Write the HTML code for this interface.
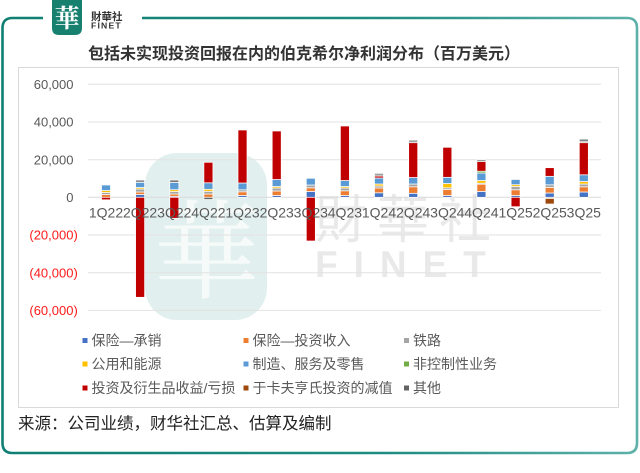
<!DOCTYPE html>
<html><head><meta charset="utf-8"><style>
html,body{margin:0;padding:0;background:#fff;}
body{width:640px;height:473px;overflow:hidden;}
svg{display:block;}
.lat{font-family:"Liberation Sans","Noto Sans CJK SC",sans-serif;}
.cjk{font-family:"Liberation Sans","Noto Sans CJK SC",sans-serif;}
</style></head><body>
<svg width="640" height="473" viewBox="0 0 640 473" xmlns="http://www.w3.org/2000/svg">
<defs>
<linearGradient id="fg" x1="0" y1="0" x2="1" y2="0">
<stop offset="0" stop-color="#0f7f73"/><stop offset="0.6" stop-color="#1f8c81"/><stop offset="1" stop-color="#5db1a9"/>
</linearGradient>
</defs>
<rect width="640" height="473" fill="#fff"/>
<path d="M43,18 L12.5,18 Q2.5,18 2.5,28 L2.5,443 Q2.5,453 12.5,453 L627,453 Q637,453 637,443 L637,28 Q637,18 627,18 L142,18" fill="none" stroke="url(#fg)" stroke-width="2.6"/>
<path d="M52,0 L82,0 L82,28 Q82,35 75,35 L59,35 Q52,35 52,28 Z" fill="#17806f"/>
<text x="67" y="27" text-anchor="middle" font-family="'Noto Serif CJK SC','Noto Sans CJK SC',serif" font-size="25" font-weight="bold" fill="#fff">華</text>
<text x="91" y="20" font-family="'Liberation Sans','Noto Sans CJK TC',sans-serif" font-size="10.5" font-weight="bold" fill="#333">財華社</text>
<text x="91" y="28.5" class="lat" font-size="8.6" font-weight="bold" fill="#333" letter-spacing="1.2">FINET</text>
<text x="304" y="59" text-anchor="middle" class="cjk" font-size="16" font-weight="bold" fill="#333">包括未实现投资回报在内的伯克希尔净利润分布（百万美元）</text>
<rect x="18.5" y="67.5" width="600" height="340" fill="#fff" stroke="#d9d9d9" stroke-width="1"/>
<!-- watermark -->
<rect x="145" y="153" width="122" height="167" rx="32" ry="32" fill="#e1f0ee"/>
<text x="206" y="290" text-anchor="middle" font-family="'Noto Serif CJK SC','Noto Sans CJK SC',serif" font-size="108" fill="#ffffff" fill-opacity="0.7">華</text>
<text x="315" y="238" font-family="'Noto Sans CJK TC','Noto Sans CJK SC',sans-serif" font-size="52" fill="#e9e9e9" letter-spacing="10">財華社</text>
<text x="315" y="277" class="lat" font-size="37" font-weight="bold" fill="#e9e9e9" letter-spacing="16">FINET</text>
<g stroke="#e2e2e2" stroke-width="1">
<line x1="88" y1="84.3" x2="601" y2="84.3"/>
<line x1="88" y1="122" x2="601" y2="122"/>
<line x1="88" y1="159.7" x2="601" y2="159.7"/>
<line x1="88" y1="235" x2="601" y2="235"/>
<line x1="88" y1="272.7" x2="601" y2="272.7"/>
<line x1="88" y1="310.4" x2="601" y2="310.4"/>
</g>
<line x1="88" y1="197.3" x2="601" y2="197.3" stroke="#d9d9d9" stroke-width="1"/>
<g stroke="#fff" stroke-width="0.7">
<rect x="101.5" y="194.5" width="9" height="2.8" fill="#ed7d31"/>
<rect x="101.5" y="192.5" width="9" height="2" fill="#a5a5a5"/>
<rect x="101.5" y="190.5" width="9" height="2" fill="#ffc000"/>
<rect x="101.5" y="185" width="9" height="5.5" fill="#5b9bd5"/>
<rect x="101.5" y="197.3" width="9" height="2.5" fill="#c00000"/>
<rect x="135.6" y="194.5" width="9" height="2.8" fill="#4472c4"/>
<rect x="135.6" y="192" width="9" height="2.5" fill="#ed7d31"/>
<rect x="135.6" y="189" width="9" height="3" fill="#a5a5a5"/>
<rect x="135.6" y="187.5" width="9" height="1.5" fill="#ffc000"/>
<rect x="135.6" y="182.3" width="9" height="5.2" fill="#5b9bd5"/>
<rect x="135.6" y="180" width="9" height="2.3" fill="#8a8a8a"/>
<rect x="135.6" y="197.3" width="9" height="100" fill="#c00000"/>
<rect x="169.8" y="196.3" width="9" height="1" fill="#4472c4"/>
<rect x="169.8" y="194" width="9" height="2.3" fill="#ed7d31"/>
<rect x="169.8" y="191.5" width="9" height="2.5" fill="#a5a5a5"/>
<rect x="169.8" y="189.7" width="9" height="1.8" fill="#ffc000"/>
<rect x="169.8" y="182.5" width="9" height="7.2" fill="#5b9bd5"/>
<rect x="169.8" y="180" width="9" height="2.5" fill="#7a7a7a"/>
<rect x="169.8" y="197.3" width="9" height="21" fill="#c00000"/>
<rect x="203.9" y="194" width="9" height="3.3" fill="#ed7d31"/>
<rect x="203.9" y="191.3" width="9" height="2.7" fill="#a5a5a5"/>
<rect x="203.9" y="189.3" width="9" height="2" fill="#ffc000"/>
<rect x="203.9" y="182.8" width="9" height="6.5" fill="#5b9bd5"/>
<rect x="203.9" y="162.3" width="9" height="20.5" fill="#c00000"/>
<rect x="203.9" y="197.3" width="9" height="2.2" fill="#636363"/>
<rect x="238" y="195.5" width="9" height="1.8" fill="#4472c4"/>
<rect x="238" y="191.8" width="9" height="3.7" fill="#ed7d31"/>
<rect x="238" y="189.8" width="9" height="2" fill="#a5a5a5"/>
<rect x="238" y="183" width="9" height="6.8" fill="#5b9bd5"/>
<rect x="238" y="130" width="9" height="53" fill="#c00000"/>
<rect x="272.2" y="195.5" width="9" height="1.8" fill="#4472c4"/>
<rect x="272.2" y="191" width="9" height="4.5" fill="#ed7d31"/>
<rect x="272.2" y="188" width="9" height="3" fill="#a5a5a5"/>
<rect x="272.2" y="186.5" width="9" height="1.5" fill="#ffc000"/>
<rect x="272.2" y="179.5" width="9" height="7" fill="#5b9bd5"/>
<rect x="272.2" y="131" width="9" height="48.5" fill="#c00000"/>
<rect x="306.3" y="191.5" width="9" height="5.8" fill="#4472c4"/>
<rect x="306.3" y="187.8" width="9" height="3.7" fill="#ed7d31"/>
<rect x="306.3" y="185" width="9" height="2.8" fill="#a5a5a5"/>
<rect x="306.3" y="178.3" width="9" height="6.7" fill="#5b9bd5"/>
<rect x="306.3" y="197.3" width="9" height="43.7" fill="#c00000"/>
<rect x="340.4" y="195.5" width="9" height="1.8" fill="#4472c4"/>
<rect x="340.4" y="190.8" width="9" height="4.7" fill="#ed7d31"/>
<rect x="340.4" y="188" width="9" height="2.8" fill="#a5a5a5"/>
<rect x="340.4" y="186.5" width="9" height="1.5" fill="#ffc000"/>
<rect x="340.4" y="180.5" width="9" height="6" fill="#5b9bd5"/>
<rect x="340.4" y="126" width="9" height="54.5" fill="#c00000"/>
<rect x="374.5" y="192.8" width="9" height="4.5" fill="#4472c4"/>
<rect x="374.5" y="188" width="9" height="4.8" fill="#ed7d31"/>
<rect x="374.5" y="186" width="9" height="2" fill="#a5a5a5"/>
<rect x="374.5" y="184" width="9" height="2" fill="#ffc000"/>
<rect x="374.5" y="178" width="9" height="6" fill="#5b9bd5"/>
<rect x="374.5" y="176" width="9" height="2" fill="#c00000"/>
<rect x="374.5" y="173.3" width="9" height="2.7" fill="#a0a0a0"/>
<rect x="408.7" y="193.3" width="9" height="4" fill="#4472c4"/>
<rect x="408.7" y="186.8" width="9" height="6.5" fill="#ed7d31"/>
<rect x="408.7" y="184" width="9" height="2.8" fill="#a5a5a5"/>
<rect x="408.7" y="177.5" width="9" height="6.5" fill="#5b9bd5"/>
<rect x="408.7" y="142.7" width="9" height="34.8" fill="#c00000"/>
<rect x="408.7" y="140" width="9" height="2.7" fill="#a0a0a0"/>
<rect x="442.8" y="195.5" width="9" height="1.8" fill="#4472c4"/>
<rect x="442.8" y="189.5" width="9" height="6" fill="#ed7d31"/>
<rect x="442.8" y="187.8" width="9" height="1.7" fill="#a5a5a5"/>
<rect x="442.8" y="183.5" width="9" height="4.3" fill="#ffc000"/>
<rect x="442.8" y="177.3" width="9" height="6.2" fill="#5b9bd5"/>
<rect x="442.8" y="147.3" width="9" height="30" fill="#c00000"/>
<rect x="476.9" y="191.5" width="9" height="5.8" fill="#4472c4"/>
<rect x="476.9" y="184.2" width="9" height="7.3" fill="#ed7d31"/>
<rect x="476.9" y="183.2" width="9" height="1" fill="#a5a5a5"/>
<rect x="476.9" y="180.5" width="9" height="2.7" fill="#ffc000"/>
<rect x="476.9" y="173" width="9" height="7.5" fill="#5b9bd5"/>
<rect x="476.9" y="171.2" width="9" height="1.8" fill="#70ad47"/>
<rect x="476.9" y="161.5" width="9" height="9.7" fill="#c00000"/>
<rect x="476.9" y="160" width="9" height="1.5" fill="#636363"/>
<rect x="511.1" y="195.5" width="9" height="1.8" fill="#4472c4"/>
<rect x="511.1" y="189.8" width="9" height="5.7" fill="#ed7d31"/>
<rect x="511.1" y="186.5" width="9" height="3.3" fill="#a5a5a5"/>
<rect x="511.1" y="184.7" width="9" height="1.8" fill="#ffc000"/>
<rect x="511.1" y="179.5" width="9" height="5.2" fill="#5b9bd5"/>
<rect x="511.1" y="197.3" width="9" height="9.4" fill="#c00000"/>
<rect x="545.2" y="193" width="9" height="4.3" fill="#4472c4"/>
<rect x="545.2" y="187.5" width="9" height="5.5" fill="#ed7d31"/>
<rect x="545.2" y="184.8" width="9" height="2.7" fill="#a5a5a5"/>
<rect x="545.2" y="176.3" width="9" height="8.5" fill="#5b9bd5"/>
<rect x="545.2" y="167.7" width="9" height="8.6" fill="#c00000"/>
<rect x="545.2" y="197.3" width="9" height="1.2" fill="#a5a5a5"/>
<rect x="545.2" y="198.5" width="9" height="5.5" fill="#9e480e"/>
<rect x="579.3" y="192" width="9" height="5.3" fill="#4472c4"/>
<rect x="579.3" y="186.8" width="9" height="5.2" fill="#ed7d31"/>
<rect x="579.3" y="184" width="9" height="2.8" fill="#a5a5a5"/>
<rect x="579.3" y="181.5" width="9" height="2.5" fill="#ffc000"/>
<rect x="579.3" y="174.8" width="9" height="6.7" fill="#5b9bd5"/>
<rect x="579.3" y="142.7" width="9" height="32.1" fill="#c00000"/>
<rect x="579.3" y="141" width="9" height="1.7" fill="#a5a5a5"/>
<rect x="579.3" y="139.3" width="9" height="1.7" fill="#3f3f3f"/>
</g>
<g class="lat" font-size="14" fill="#595959" text-anchor="middle">
<text x="106" y="217.5">1Q22</text>
<text x="140.1" y="217.5">2Q22</text>
<text x="174.3" y="217.5">3Q22</text>
<text x="208.4" y="217.5">4Q22</text>
<text x="242.5" y="217.5">1Q23</text>
<text x="276.7" y="217.5">2Q23</text>
<text x="310.8" y="217.5">3Q23</text>
<text x="344.9" y="217.5">4Q23</text>
<text x="379" y="217.5">1Q24</text>
<text x="413.2" y="217.5">2Q24</text>
<text x="447.3" y="217.5">3Q24</text>
<text x="481.4" y="217.5">4Q24</text>
<text x="515.6" y="217.5">1Q25</text>
<text x="549.7" y="217.5">2Q25</text>
<text x="583.8" y="217.5">3Q25</text>
</g>
<g class="lat" font-size="13" text-anchor="end">
<text x="73.5" y="89" fill="#595959">60,000</text>
<text x="73.5" y="126.7" fill="#595959">40,000</text>
<text x="73.5" y="164.4" fill="#595959">20,000</text>
<text x="73.5" y="202" fill="#595959">0</text>
<text x="77.8" y="239.7" fill="#ff1a1a">(20,000)</text>
<text x="77.8" y="277.4" fill="#ff1a1a">(40,000)</text>
<text x="77.8" y="315.1" fill="#ff1a1a">(60,000)</text>
</g>
<g>
<rect x="82.5" y="338" width="5" height="5" fill="#4472c4"/>
<rect x="243.5" y="338" width="5" height="5" fill="#ed7d31"/>
<rect x="404" y="338" width="5" height="5" fill="#a5a5a5"/>
<rect x="82.5" y="361.5" width="5" height="5" fill="#ffc000"/>
<rect x="243.5" y="361.5" width="5" height="5" fill="#5b9bd5"/>
<rect x="404" y="361.5" width="5" height="5" fill="#70ad47"/>
<rect x="82.5" y="385.5" width="5" height="5" fill="#c00000"/>
<rect x="243.5" y="385.5" width="5" height="5" fill="#9e480e"/>
<rect x="404" y="385.5" width="5" height="5" fill="#636363"/>
</g>
<g class="cjk" font-size="14" fill="#595959">
<text x="91.5" y="345.5">保险—承销</text>
<text x="252.5" y="345.5">保险—投资收入</text>
<text x="413" y="345.5">铁路</text>
<text x="91.5" y="369.2">公用和能源</text>
<text x="252.5" y="369.2">制造、服务及零售</text>
<text x="413" y="369.2">非控制性业务</text>
<text x="91.5" y="393">投资及衍生品收益/亏损</text>
<text x="252.5" y="393">于卡夫亨氏投资的减值</text>
<text x="413" y="393">其他</text>
</g>
<text x="18" y="429" class="cjk" font-size="16.5" fill="#222">来源：公司业绩，财华社汇总、估算及编制</text>
</svg>
</body></html>
